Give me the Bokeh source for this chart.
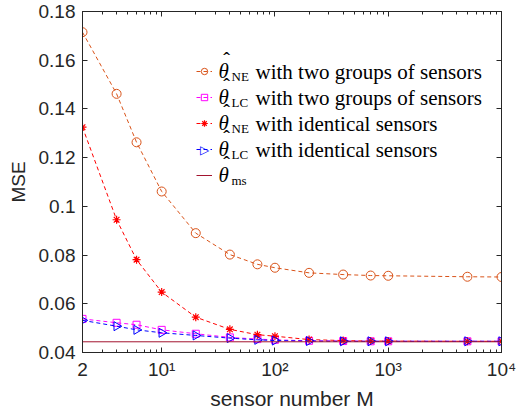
import math
from bokeh.plotting import figure
from bokeh.models import (FixedTicker, LinearAxis, LogAxis, Legend, LegendItem,
                          Label, Range1d)
from bokeh.embed import file_html
from bokeh.resources import INLINE

# ---------------- data ----------------
M = [2, 4, 6, 10, 20, 40, 70, 100, 200, 400, 700, 1000, 5000, 10000]
mse_ne_two = [0.1715, 0.1462, 0.1263, 0.1061, 0.0890, 0.0802, 0.0762, 0.0748,
              0.0727, 0.0720, 0.0716, 0.0715, 0.0711, 0.0710]
mse_lc_two = [0.0538, 0.0522, 0.0514, 0.0493, 0.0477, 0.0462, 0.0455, 0.0452,
              0.0448, 0.0447, 0.0446, 0.0446, 0.0446, 0.0446]
mse_ne_id = [0.1325, 0.0945, 0.0781, 0.0648, 0.0545, 0.0495, 0.0473, 0.0467,
             0.0453, 0.0449, 0.0447, 0.0447, 0.0446, 0.0446]
mse_lc_id = [0.0532, 0.0508, 0.0493, 0.0481, 0.0470, 0.0459, 0.0452, 0.0449,
             0.0447, 0.0446, 0.0446, 0.0446, 0.0446, 0.0446]
theta_ms = 0.0444

x_ticks = [2, 10, 100, 1000, 10000]
x_tick_labels = ["2", "10\u00b9", "10\u00b2", "10\u00b3", "10\u2074"]
y_ticks = [0.04, 0.06, 0.08, 0.10, 0.12, 0.14, 0.16, 0.18]
y_tick_labels = ["0.04", "0.06", "0.08", "0.1", "0.12", "0.14", "0.16", "0.18"]

legend_subs = ["NE", "LC", "NE", "LC", "ms"]
legend_texts = ["with two groups of sensors", "with two groups of sensors",
                "with identical sensors", "with identical sensors", ""]

C_ORANGE = "#D95319"
C_MAGENTA = "#FF00FF"
C_RED = "#FF0000"
C_BLUE = "#0000FF"
C_MS = "#A2142F"
AX = "#262626"

# ---------------- figure ----------------
p = figure(width=524, height=414, x_axis_type="log",
           x_range=Range1d(2, 10000), y_range=Range1d(0.04, 0.18),
           output_backend="svg", toolbar_location=None,
           min_border_left=82, min_border_right=23,
           min_border_top=11, min_border_bottom=62)
p.xgrid.visible = False
p.ygrid.visible = False
p.outline_line_color = AX
p.background_fill_color = "white"
p.border_fill_color = "white"

minor_x = [k * 10 ** e for e in range(0, 4) for k in range(2, 10)
           if 2 < k * 10 ** e < 10000 and k * 10 ** e not in x_ticks]


def style_axis(ax, minor=False):
    ax.axis_line_color = AX
    ax.major_tick_line_color = AX
    ax.major_tick_in = 5
    ax.major_tick_out = 0
    if minor:
        ax.minor_tick_line_color = AX
        ax.minor_tick_in = 3
        ax.minor_tick_out = 0
    else:
        ax.minor_tick_line_color = None
    ax.major_label_text_font = "Liberation Sans"
    ax.major_label_text_font_size = "19px"
    ax.major_label_text_color = AX
    ax.axis_label_text_font = "Liberation Sans"
    ax.axis_label_text_font_size = "21px"
    ax.axis_label_text_font_style = "normal"
    ax.axis_label_text_color = AX


xa = p.xaxis[0]
xa.ticker = FixedTicker(ticks=x_ticks, minor_ticks=minor_x)
xa.major_label_overrides = {float(t): l for t, l in zip(x_ticks, x_tick_labels)}
style_axis(xa, minor=True)
xa.axis_label = "sensor number M"
xa.major_label_standoff = 6
xa.axis_label_standoff = 4

ya = p.yaxis[0]
ya.ticker = FixedTicker(ticks=y_ticks)
ya.major_label_overrides = {t: l for t, l in zip(y_ticks, y_tick_labels)}
style_axis(ya)
ya.axis_label = "MSE"
ya.axis_label_text_font_size = "19px"
ya.major_label_standoff = 7
ya.axis_label_standoff = 7

top = LogAxis(ticker=FixedTicker(ticks=x_ticks, minor_ticks=minor_x))
style_axis(top, minor=True)
top.major_label_text_font_size = "1px"
top.major_label_text_alpha = 0
top.major_label_standoff = 0
p.add_layout(top, "above")

right = LinearAxis(ticker=FixedTicker(ticks=y_ticks))
style_axis(right)
right.major_label_text_font_size = "1px"
right.major_label_text_alpha = 0
right.major_label_standoff = 0
p.add_layout(right, "right")

# ---------------- series ----------------
DASH = "4 3"
l1 = p.line(M, mse_ne_two, line_color=C_ORANGE, line_dash=DASH, line_width=1)
s1 = p.scatter(M, mse_ne_two, marker="circle", size=9, line_color=C_ORANGE,
               fill_color=None, line_width=1)
l2 = p.line(M, mse_lc_two, line_color=C_MAGENTA, line_dash=DASH, line_width=1)
s2 = p.scatter(M, mse_lc_two, marker="square", size=7, line_color=C_MAGENTA,
               fill_color=None, line_width=1)
l3 = p.line(M, mse_ne_id, line_color=C_RED, line_dash=DASH, line_width=1)
s3 = p.scatter(M, mse_ne_id, marker="asterisk", size=8, line_color=C_RED,
               line_width=1.2)
l4 = p.line(M, mse_lc_id, line_color=C_BLUE, line_dash=DASH, line_width=1)
s4 = p.scatter(M, mse_lc_id, marker="triangle", size=9, angle=-math.pi / 2,
               line_color=C_BLUE, fill_color=None, line_width=1)
l5 = p.line([M[0], M[-1]], [theta_ms, theta_ms], line_color=C_MS, line_width=1)

# ---------------- legend ----------------
ROW_H = 26
FRAME_BOTTOM = 352
FRAME_LEFT = 82
first_row_center = 71
icon_cx = 204
legend = Legend(items=[LegendItem(label=" ", renderers=r) for r in
                       [[l1, s1], [l2, s2], [l3, s3], [l4], [l5]]],
                location=(icon_cx - 8 - FRAME_LEFT, FRAME_BOTTOM - (first_row_center - 10 + 5 * 20 + 4 * 6)),
                orientation="vertical", glyph_width=16, glyph_height=20,
                label_height=20, label_width=4, label_standoff=0, spacing=6,
                padding=0, margin=0, border_line_color=None,
                background_fill_alpha=0, label_text_font_size="8px")
p.add_layout(legend)

# right-pointing triangle icon for the 4th legend entry (legend glyphs ignore angle)
p.add_layout(Label(x=icon_cx - FRAME_LEFT, y=FRAME_BOTTOM - (first_row_center + 3 * ROW_H),
                   x_units="screen", y_units="screen", text="\u25b7",
                   text_font="DejaVu Sans", text_font_size="12px",
                   text_align="center", text_baseline="middle",
                   text_color=C_BLUE))

for i, (sub, txt) in enumerate(zip(legend_subs, legend_texts)):
    cy = first_row_center + i * ROW_H
    fy = FRAME_BOTTOM - cy
    p.add_layout(Label(x=218 - FRAME_LEFT, y=fy + 1, x_units="screen", y_units="screen",
                       text="\u03b8", text_font="Liberation Serif",
                       text_font_style="italic", text_font_size="21px",
                       text_baseline="middle", text_color="black"))
    p.add_layout(Label(x=226 - FRAME_LEFT, y=fy + 9, x_units="screen", y_units="screen",
                       text="^", text_font="DejaVu Sans",
                       text_font_style="bold", text_font_size="11px",
                       text_align="center", text_baseline="bottom",
                       text_color="black"))
    p.add_layout(Label(x=231 - FRAME_LEFT, y=fy - 5, x_units="screen", y_units="screen",
                       text=sub, text_font="Liberation Serif",
                       text_font_size="13px", text_baseline="middle",
                       text_color="black"))
    if txt:
        p.add_layout(Label(x=255 - FRAME_LEFT, y=fy, x_units="screen", y_units="screen",
                           text=txt, text_font="Liberation Serif",
                           text_font_size="21px", text_baseline="middle",
                           text_color="black"))

open("out.html", "w").write(file_html(p, INLINE))
